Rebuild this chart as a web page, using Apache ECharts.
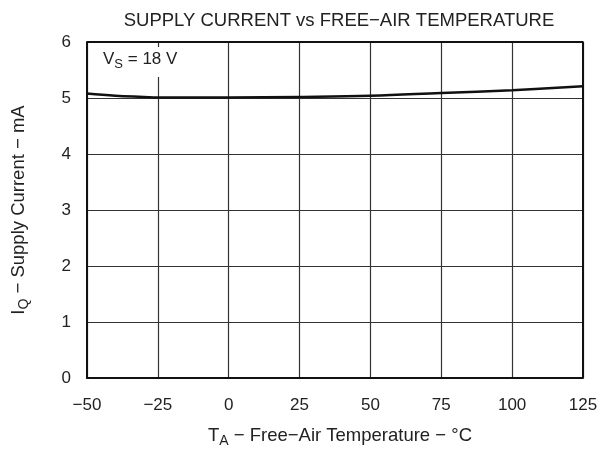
<!DOCTYPE html>
<html><head><meta charset="utf-8">
<script src="https://cdn.jsdelivr.net/npm/echarts@6/dist/echarts.min.js"></script>
<style>html,body{margin:0;padding:0;background:#fff}#c{width:599px;height:449px}</style>
</head><body><div id="c"></div>
<script>
const temps = [-50, -40, -30, -25, -15, 0, 25, 50, 75, 100, 125];
const current = [5.08, 5.04, 5.02, 5.01, 5.01, 5.01, 5.02, 5.04, 5.09, 5.14, 5.21];
const xTicks = [-50, -25, 0, 25, 50, 75, 100, 125];
const yTicks = [0, 1, 2, 3, 4, 5, 6];
const font = 'Liberation Sans, Arial, sans-serif';
const rich = {n: {fontFamily: font, fontSize: 18.5, color: '#222'}, s: {fontFamily: font, fontSize: 14, color: '#222', verticalAlign: 'bottom', padding: [10,0,0,0]}};
const chart = echarts.init(document.getElementById('c'));
chart.setOption({
  animation: false,
  grid: {left: 87, right: 16, top: 42, bottom: 71, containLabel: false, outerBoundsMode: 'none'},
  title: {text: 'SUPPLY CURRENT vs FREE\u2212AIR TEMPERATURE', left: 334, textAlign: 'center', top: 6,
    textStyle: {fontFamily: font, fontSize: 18.5, fontWeight: 'normal', color: '#222'}},
  xAxis: {type: 'value', min: -50, max: 125, interval: 25,
    name: '{n|T}{s|A}{n| \u2212 Free\u2212Air Temperature \u2212 \u00B0C}', nameLocation: 'middle', nameGap: 46,
    nameTextStyle: {rich: rich, padding: [0, 0, 0, 10]},
    axisLine: {show: true, onZero: false, lineStyle: {color: '#111', width: 2}},
    axisTick: {show: false},
    axisLabel: {margin: 19, fontFamily: font, fontSize: 17, color: '#222', formatter: v => xTicks.includes(v) ? String(v).replace('-', '\u2212') : ''},
    splitLine: {show: true, lineStyle: {color: '#333', width: 1.2}}},
  yAxis: {type: 'value', min: 0, max: 6, interval: 1,
    name: '{n|I}{s|Q}{n| \u2212 Supply Current \u2212 mA}', nameLocation: 'middle', nameGap: 56,
    nameTextStyle: {rich: rich},
    axisLine: {show: true, onZero: false, lineStyle: {color: '#111', width: 2}},
    axisTick: {show: false},
    axisLabel: {margin: 16, fontFamily: font, fontSize: 17, color: '#222', formatter: v => yTicks.includes(v) ? String(v) : ''},
    splitLine: {show: true, lineStyle: {color: '#333', width: 1.2}}},
  series: [
    {type: 'line', data: temps.map((t, i) => [t, current[i]]), smooth: 0.4, symbol: 'none',
     lineStyle: {color: '#111', width: 2.5}},
    {type: 'line', data: [[125, 0], [125, 6], [-50, 6]], symbol: 'none', silent: true,
     lineStyle: {color: '#111', width: 2}}
  ],
  graphic: [{type: 'rect', left: 96, top: 47, shape: {width: 94, height: 30}, style: {fill: '#fff'}, z: 10},
    {type: 'text', left: 103, top: 51, z: 11,
    style: {text: '{n|V}{s|S}{n| = 18 V}', rich: {n: {fontFamily: font, fontSize: 17, fill: '#222'}, s: {fontFamily: font, fontSize: 13, fill: '#222', verticalAlign: 'bottom', padding: [10,0,0,0]}}}}]
});
</script></body></html>
